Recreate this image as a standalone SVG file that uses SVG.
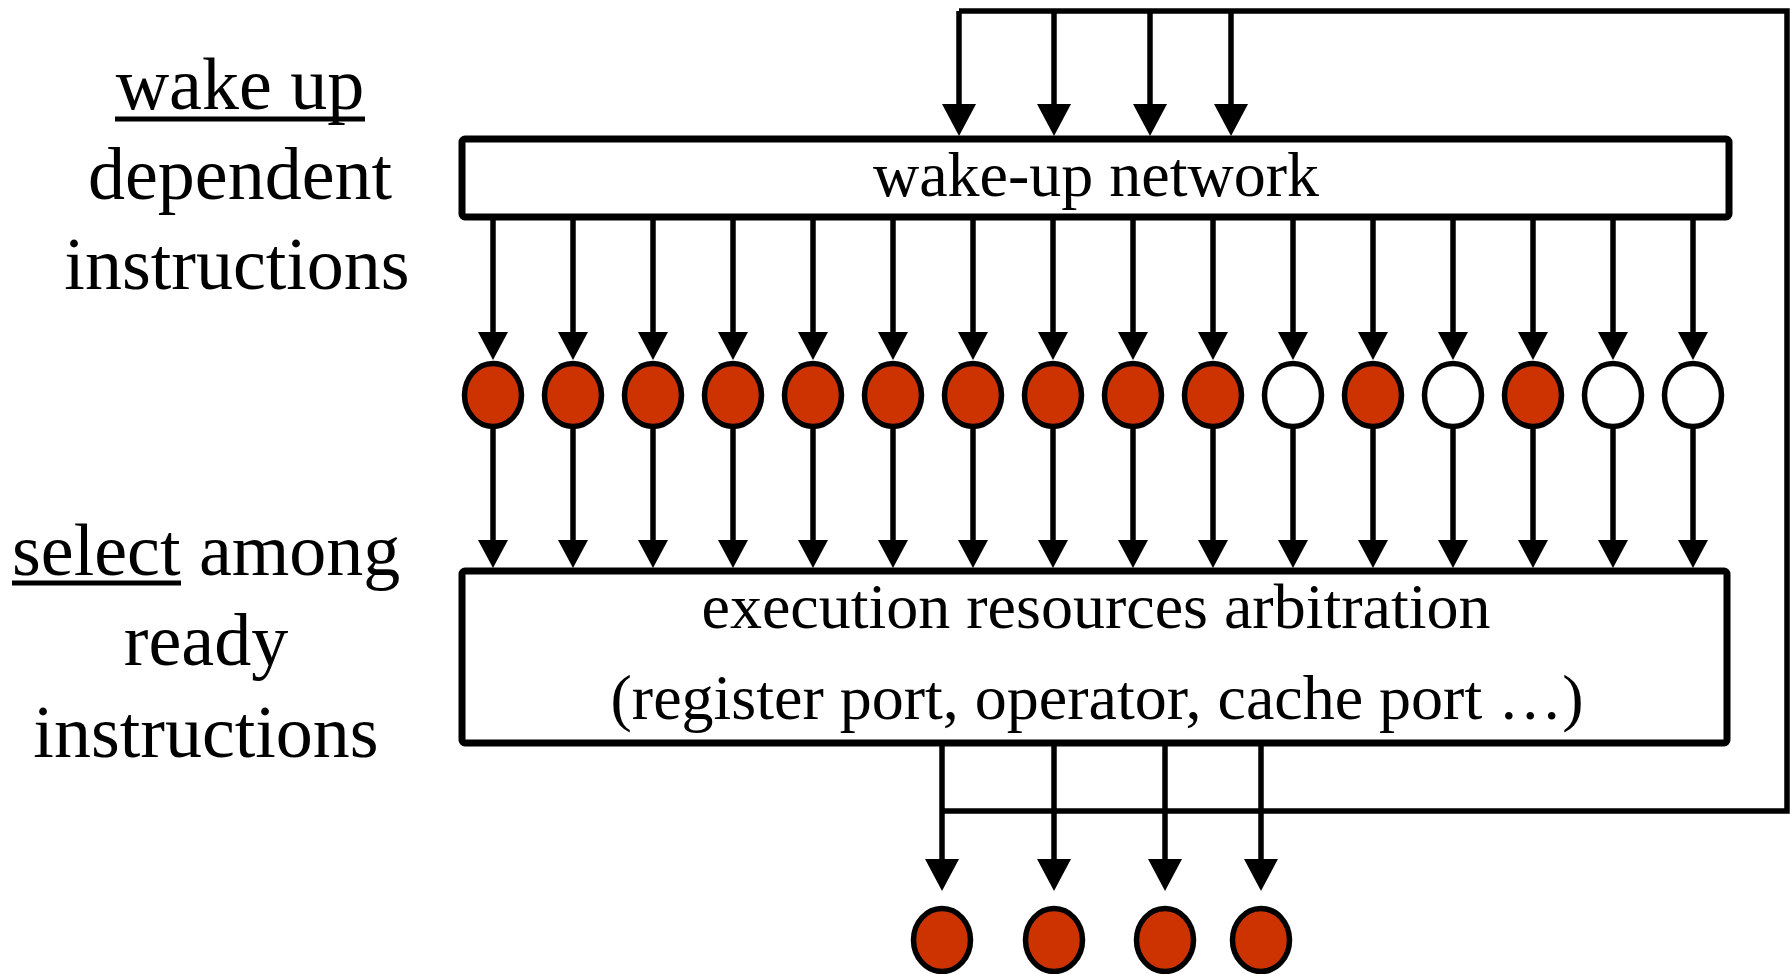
<svg xmlns="http://www.w3.org/2000/svg" width="1790" height="974" viewBox="0 0 1790 974">
<style>
.lbl{font-family:"Liberation Serif","Times New Roman",serif;font-size:74px;fill:#000}
.btx{font-family:"Liberation Serif","Times New Roman",serif;font-size:64px;fill:#000;text-anchor:middle}
.box{fill:#fff;stroke:#000;stroke-width:7}
.ln{stroke:#000;stroke-width:5.5;fill:none}
.ms{marker-end:url(#as)}
.ml{marker-end:url(#al)}
.on{fill:#CC3300;stroke:#000;stroke-width:5.5}
.off{fill:#fff;stroke:#000;stroke-width:5.5}
.ul{stroke:#000;stroke-width:5}
</style>
<defs>
<marker id="as" markerUnits="userSpaceOnUse" viewBox="0 0 28 30" markerWidth="28" markerHeight="30" refX="18" refY="15" orient="auto"><path d="M0,0 L28,15 L0,30 z" fill="#000"/></marker>
<marker id="al" markerUnits="userSpaceOnUse" viewBox="0 0 32 34" markerWidth="32" markerHeight="34" refX="22" refY="17" orient="auto"><path d="M0,0 L32,17 L0,34 z" fill="#000"/></marker>
</defs>

<g id="label-wakeup">
<text class="lbl" x="240" y="109" text-anchor="middle">wake up</text>
<line class="ul" x1="115" y1="119" x2="365" y2="119"/>
<text class="lbl" x="240" y="199" text-anchor="middle">dependent</text>
<text class="lbl" x="237" y="289" text-anchor="middle">instructions</text>
</g>
<g id="label-select">
<text class="lbl" x="12" y="575">select among</text>
<line class="ul" x1="12" y1="583" x2="181" y2="583"/>
<text class="lbl" x="206" y="665" text-anchor="middle">ready</text>
<text class="lbl" x="206" y="757" text-anchor="middle">instructions</text>
</g>

<g id="connectors">
<path class="ln" d="M942,811 H1787 V11 H959"/>
<line class="ln ml" x1="959" y1="11" x2="959" y2="126"/>
<line class="ln ml" x1="1054" y1="11" x2="1054" y2="126"/>
<line class="ln ml" x1="1150" y1="11" x2="1150" y2="126"/>
<line class="ln ml" x1="1231" y1="11" x2="1231" y2="126"/>
<line class="ln ml" x1="942" y1="743" x2="942" y2="881"/>
<line class="ln ml" x1="1054" y1="743" x2="1054" y2="881"/>
<line class="ln ml" x1="1165" y1="743" x2="1165" y2="881"/>
<line class="ln ml" x1="1261" y1="743" x2="1261" y2="881"/>
<g id="wake-to-entries">
<line class="ln ms" x1="493" y1="214" x2="493" y2="350"/>
<line class="ln ms" x1="573" y1="214" x2="573" y2="350"/>
<line class="ln ms" x1="653" y1="214" x2="653" y2="350"/>
<line class="ln ms" x1="733" y1="214" x2="733" y2="350"/>
<line class="ln ms" x1="813" y1="214" x2="813" y2="350"/>
<line class="ln ms" x1="893" y1="214" x2="893" y2="350"/>
<line class="ln ms" x1="973" y1="214" x2="973" y2="350"/>
<line class="ln ms" x1="1053" y1="214" x2="1053" y2="350"/>
<line class="ln ms" x1="1133" y1="214" x2="1133" y2="350"/>
<line class="ln ms" x1="1213" y1="214" x2="1213" y2="350"/>
<line class="ln ms" x1="1293" y1="214" x2="1293" y2="350"/>
<line class="ln ms" x1="1373" y1="214" x2="1373" y2="350"/>
<line class="ln ms" x1="1453" y1="214" x2="1453" y2="350"/>
<line class="ln ms" x1="1533" y1="214" x2="1533" y2="350"/>
<line class="ln ms" x1="1613" y1="214" x2="1613" y2="350"/>
<line class="ln ms" x1="1693" y1="214" x2="1693" y2="350"/>
</g>
<g id="entries-to-select">
<line class="ln ms" x1="493" y1="427" x2="493" y2="558"/>
<line class="ln ms" x1="573" y1="427" x2="573" y2="558"/>
<line class="ln ms" x1="653" y1="427" x2="653" y2="558"/>
<line class="ln ms" x1="733" y1="427" x2="733" y2="558"/>
<line class="ln ms" x1="813" y1="427" x2="813" y2="558"/>
<line class="ln ms" x1="893" y1="427" x2="893" y2="558"/>
<line class="ln ms" x1="973" y1="427" x2="973" y2="558"/>
<line class="ln ms" x1="1053" y1="427" x2="1053" y2="558"/>
<line class="ln ms" x1="1133" y1="427" x2="1133" y2="558"/>
<line class="ln ms" x1="1213" y1="427" x2="1213" y2="558"/>
<line class="ln ms" x1="1293" y1="427" x2="1293" y2="558"/>
<line class="ln ms" x1="1373" y1="427" x2="1373" y2="558"/>
<line class="ln ms" x1="1453" y1="427" x2="1453" y2="558"/>
<line class="ln ms" x1="1533" y1="427" x2="1533" y2="558"/>
<line class="ln ms" x1="1613" y1="427" x2="1613" y2="558"/>
<line class="ln ms" x1="1693" y1="427" x2="1693" y2="558"/>
</g>
</g>

<g id="wakeup-network">
<rect class="box" x="462" y="139" width="1267" height="78" rx="3"/>
<text class="btx" x="1096" y="196">wake-up network</text>
</g>

<g id="arbitration">
<rect class="box" x="462" y="571" width="1265" height="172" rx="3"/>
<text class="btx" x="1096" y="628">execution resources arbitration</text>
<text class="btx" x="1097" y="719">(register port, operator, cache port …)</text>
</g>

<g id="entries">
<ellipse id="e1" class="on" cx="493" cy="395" rx="28.5" ry="31.5"/>
<ellipse id="e2" class="on" cx="573" cy="395" rx="28.5" ry="31.5"/>
<ellipse id="e3" class="on" cx="653" cy="395" rx="28.5" ry="31.5"/>
<ellipse id="e4" class="on" cx="733" cy="395" rx="28.5" ry="31.5"/>
<ellipse id="e5" class="on" cx="813" cy="395" rx="28.5" ry="31.5"/>
<ellipse id="e6" class="on" cx="893" cy="395" rx="28.5" ry="31.5"/>
<ellipse id="e7" class="on" cx="973" cy="395" rx="28.5" ry="31.5"/>
<ellipse id="e8" class="on" cx="1053" cy="395" rx="28.5" ry="31.5"/>
<ellipse id="e9" class="on" cx="1133" cy="395" rx="28.5" ry="31.5"/>
<ellipse id="e10" class="on" cx="1213" cy="395" rx="28.5" ry="31.5"/>
<ellipse id="e11" class="off" cx="1293" cy="395" rx="28.5" ry="31.5"/>
<ellipse id="e12" class="on" cx="1373" cy="395" rx="28.5" ry="31.5"/>
<ellipse id="e13" class="off" cx="1453" cy="395" rx="28.5" ry="31.5"/>
<ellipse id="e14" class="on" cx="1533" cy="395" rx="28.5" ry="31.5"/>
<ellipse id="e15" class="off" cx="1613" cy="395" rx="28.5" ry="31.5"/>
<ellipse id="e16" class="off" cx="1693" cy="395" rx="28.5" ry="31.5"/>
</g>

<g id="outputs">
<ellipse id="o1" class="on" cx="942" cy="940" rx="28.5" ry="31.5"/>
<ellipse id="o2" class="on" cx="1054" cy="940" rx="28.5" ry="31.5"/>
<ellipse id="o3" class="on" cx="1165" cy="940" rx="28.5" ry="31.5"/>
<ellipse id="o4" class="on" cx="1261" cy="940" rx="28.5" ry="31.5"/>
</g>
</svg>
